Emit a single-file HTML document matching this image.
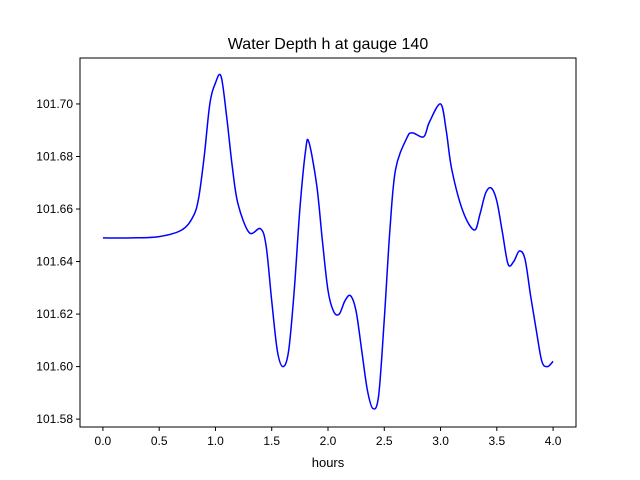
<!DOCTYPE html>
<html><head><meta charset="utf-8"><style>
body{margin:0;background:#fff;}
svg{display:block;font-family:"Liberation Sans","DejaVu Sans",sans-serif;}
</style></head><body>
<svg id="chart" width="640" height="480">
<rect width="640" height="480" fill="#fff"/>
<text x="328" y="49" text-anchor="middle" font-size="16">Water Depth h at gauge 140</text>
<g id="plot"></g>
<rect x="80" y="58" width="496" height="369" fill="none" stroke="#000" stroke-width="1"/>
<text x="328" y="467" text-anchor="middle" font-size="13">hours</text>
</svg>
<script>
const times=[0,0.25,0.5,0.7,0.8,0.85,0.9,0.95,1.0,1.05,1.1,1.15,1.2,1.3,1.4,1.45,1.5,1.55,1.6,1.65,1.7,1.75,1.8,1.83,1.9,1.95,2.0,2.05,2.1,2.15,2.2,2.25,2.3,2.35,2.4,2.45,2.5,2.55,2.6,2.7,2.75,2.85,2.9,3.0,3.05,3.1,3.2,3.3,3.35,3.4,3.45,3.5,3.55,3.6,3.65,3.7,3.75,3.8,3.85,3.9,3.95,4.0];
const depth=[101.649,101.649,101.6495,101.652,101.657,101.664,101.680,101.700,101.708,101.7105,101.695,101.676,101.662,101.651,101.6525,101.646,101.625,101.606,101.600,101.606,101.629,101.66,101.682,101.6855,101.669,101.648,101.629,101.621,101.620,101.625,101.627,101.621,101.606,101.591,101.584,101.589,101.618,101.652,101.675,101.687,101.689,101.6875,101.693,101.700,101.690,101.675,101.659,101.652,101.658,101.666,101.668,101.663,101.651,101.639,101.640,101.644,101.641,101.627,101.614,101.602,101.600,101.602];
const xTicks=[0,0.5,1,1.5,2,2.5,3,3.5,4];
const xTickLabels=["0.0","0.5","1.0","1.5","2.0","2.5","3.0","3.5","4.0"];
const yTicks=[101.58,101.60,101.62,101.64,101.66,101.68,101.70];
const yTickLabels=["101.58","101.60","101.62","101.64","101.66","101.68","101.70"];
const X0=80,X1=576,Y0=58,Y1=427;
const xMin=-0.2035,xMax=4.2035,yMin=101.577,yMax=101.7175;
const sx=v=>X0+(v-xMin)/(xMax-xMin)*(X1-X0);
const sy=v=>Y1-(v-yMin)/(yMax-yMin)*(Y1-Y0);
const NS="http://www.w3.org/2000/svg";
const g=document.getElementById('plot');
function mk(t,a){const e=document.createElementNS(NS,t);for(const k in a)e.setAttribute(k,a[k]);g.appendChild(e);return e;}
xTicks.forEach((v,i)=>{
 const l=mk('line',{x1:sx(v),x2:sx(v),y1:Y1,y2:Y1+4,stroke:'#000'});
 
 
 const t=mk('text',{x:sx(v),y:Y1+18,'text-anchor':'middle','font-size':'12'});
 t.textContent=xTickLabels[i];
 
 
});
yTicks.forEach((v,i)=>{
 const l=mk('line',{x1:X0-4,x2:X0,y1:sy(v),y2:sy(v),stroke:'#000'});
 
 
 const t=mk('text',{x:X0-7,y:sy(v)+4,'text-anchor':'end','font-size':'12'});
 t.textContent=yTickLabels[i];
 
 
});
let pts=times.map((t,i)=>[sx(t),sy(depth[i])]);
let d='M'+pts[0][0]+','+pts[0][1];
for(let i=0;i<pts.length-1;i++){
 const p0=pts[Math.max(i-1,0)],p1=pts[i],p2=pts[i+1],p3=pts[Math.min(i+2,pts.length-1)];
 const c1=[p1[0]+(p2[0]-p0[0])/6,p1[1]+(p2[1]-p0[1])/6];
 const c2=[p2[0]-(p3[0]-p1[0])/6,p2[1]-(p3[1]-p1[1])/6];
 d+=` C${c1[0]},${c1[1]} ${c2[0]},${c2[1]} ${p2[0]},${p2[1]}`;
}
const path=mk('path',{d:d,fill:'none',stroke:'#0000ff','stroke-width':'1.5'});


</script>
</body></html>
